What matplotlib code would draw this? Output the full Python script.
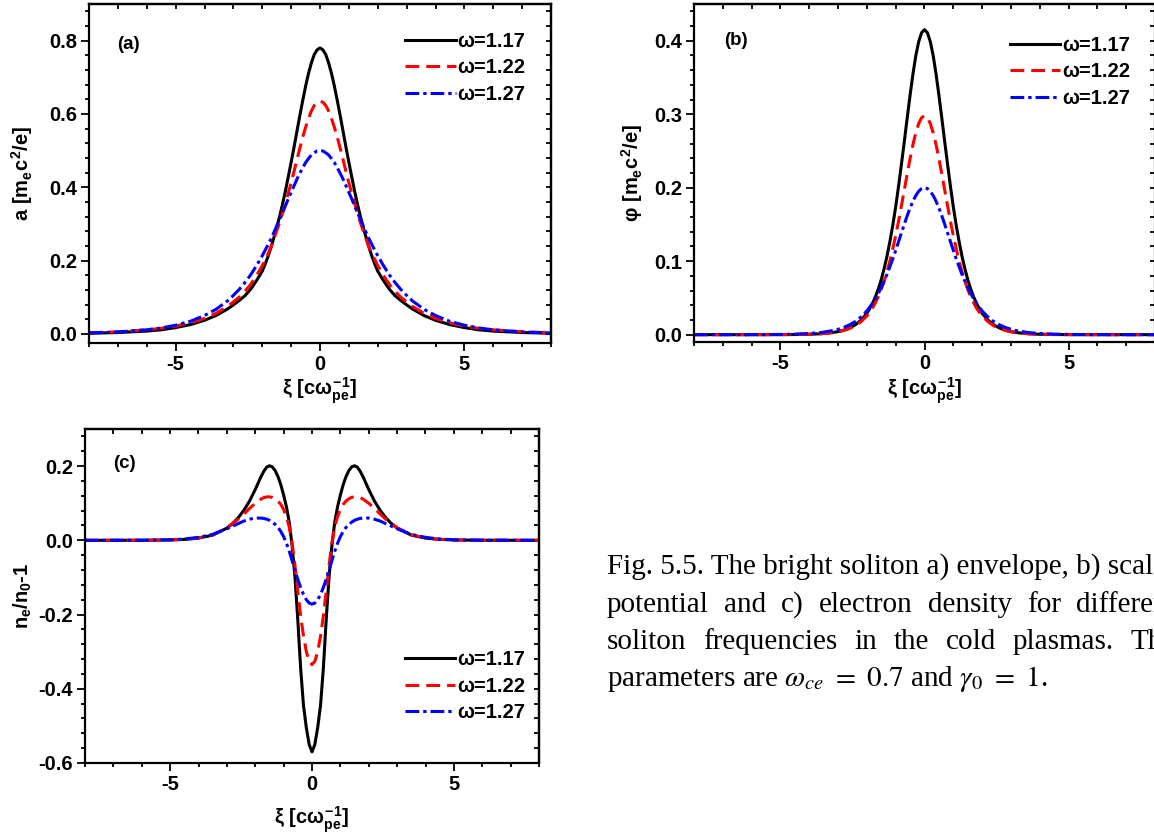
import numpy as np
import matplotlib
matplotlib.use("Agg")
import matplotlib.pyplot as plt
from matplotlib.ticker import MultipleLocator, FormatStrFormatter

plt.rcParams.update({
    "font.family": ["Liberation Sans", "DejaVu Sans"],
    "font.weight": "normal",
    "axes.unicode_minus": False,
    "mathtext.fontset": "custom",
    "mathtext.rm": "Liberation Sans:bold",
    "mathtext.it": "Liberation Sans:bold",
    "mathtext.bf": "Liberation Sans:bold",
    "mathtext.sf": "Liberation Sans:bold",
})

# ---------------- data (half profiles, curves are symmetric in xi) ----------------
labels = ["ω=1.17", "ω=1.22", "ω=1.27"]
colors = ["black", "red", "blue"]

xi_ab = [0, 0.1, 0.2, 0.3, 0.4, 0.5, 0.6, 0.7, 0.8, 0.9, 1.0, 1.1, 1.2, 1.3, 1.4, 1.5,
         1.6, 1.7, 1.8, 1.9, 2.0, 2.2, 2.4, 2.6, 2.8, 3.0, 3.2, 3.6, 4.0, 4.5, 5.0,
         5.5, 6.0, 7.0, 8.0]

# (a) envelope a
a_117 = [0.780, 0.775, 0.762, 0.739, 0.710, 0.675, 0.636, 0.595, 0.552, 0.509, 0.468,
         0.428, 0.389, 0.353, 0.320, 0.290, 0.262, 0.235, 0.211, 0.190, 0.171,
         0.145, 0.122, 0.104, 0.091, 0.079, 0.068, 0.050, 0.037, 0.025, 0.017,
         0.011, 0.0075, 0.0035, 0.0015]
a_122 = [0.635, 0.632, 0.623, 0.608, 0.587, 0.563, 0.536, 0.506, 0.475, 0.443, 0.412,
         0.384, 0.356, 0.329, 0.303, 0.281, 0.258, 0.237, 0.218, 0.202, 0.186,
         0.159, 0.135, 0.116, 0.100, 0.087, 0.075, 0.056, 0.042, 0.030, 0.021,
         0.015, 0.011, 0.0055, 0.0028]
a_127 = [0.500, 0.499, 0.494, 0.488, 0.478, 0.467, 0.453, 0.438, 0.422, 0.404, 0.386,
         0.368, 0.349, 0.330, 0.312, 0.294, 0.276, 0.259, 0.243, 0.228, 0.213,
         0.186, 0.161, 0.140, 0.121, 0.105, 0.090, 0.067, 0.050, 0.034, 0.0235,
         0.016, 0.011, 0.0052, 0.0025]

# (b) scalar potential phi
phi_117 = [0.415, 0.411, 0.399, 0.380, 0.355, 0.326, 0.295, 0.263, 0.232, 0.202, 0.174,
           0.149, 0.127, 0.107, 0.090, 0.075, 0.0625, 0.052, 0.043, 0.0355, 0.029,
           0.0199, 0.0134, 0.0091, 0.0061, 0.0041, 0.0028, 0.0012, 0.0005, 0.0002,
           0.0, 0.0, 0.0, 0.0, 0.0]
phi_122 = [0.298, 0.2953, 0.2875, 0.275, 0.2588, 0.2396, 0.2188, 0.1972, 0.1755, 0.1545,
           0.1349, 0.1169, 0.1003, 0.0858, 0.0728, 0.0617, 0.0519, 0.0439, 0.0365,
           0.0306, 0.0255, 0.0177, 0.0122, 0.0084, 0.0058, 0.0040, 0.0027, 0.0013,
           0.0006, 0.0002, 0.0001, 0.0, 0.0, 0.0, 0.0]
phi_127 = [0.200, 0.1988, 0.1952, 0.1894, 0.1817, 0.1724, 0.1619, 0.1504, 0.1386, 0.1266,
           0.1148, 0.1032, 0.0926, 0.0821, 0.0730, 0.0641, 0.0564, 0.0492, 0.0429,
           0.0374, 0.0322, 0.0242, 0.0179, 0.0134, 0.0099, 0.0073, 0.0054, 0.0029,
           0.00155, 0.0007, 0.0003, 0.0001, 0.0, 0.0, 0.0]

# (c) density perturbation n_e/n_0 - 1
xi_c = [0, 0.1, 0.2, 0.3, 0.4, 0.5, 0.6, 0.7, 0.8, 0.9, 1.0, 1.1, 1.2, 1.3, 1.4, 1.5,
        1.6, 1.7, 1.8, 2.0, 2.2, 2.4, 2.6, 2.8, 3.0, 3.5, 4.0, 4.5, 5.0, 6.0, 8.0]
n_117 = [-0.570, -0.550, -0.505, -0.445, -0.345, -0.215, -0.100, -0.015, 0.048, 0.090,
         0.122, 0.150, 0.172, 0.188, 0.198, 0.201, 0.197, 0.186, 0.171, 0.137, 0.106,
         0.081, 0.061, 0.045, 0.033, 0.014, 0.006, 0.0025, 0.001, 0.0002, 0.0]
n_122 = [-0.335, -0.326, -0.300, -0.258, -0.204, -0.138, -0.068, -0.008, 0.035, 0.064,
         0.083, 0.097, 0.106, 0.112, 0.116, 0.117, 0.117, 0.115, 0.111, 0.100, 0.086,
         0.071, 0.057, 0.045, 0.034, 0.015, 0.0065, 0.0028, 0.0012, 0.0002, 0.0]
n_127 = [-0.172, -0.169, -0.160, -0.146, -0.127, -0.105, -0.080, -0.055, -0.030, -0.008,
         0.010, 0.024, 0.035, 0.043, 0.049, 0.054, 0.057, 0.059, 0.060, 0.060, 0.057,
         0.052, 0.045, 0.038, 0.031, 0.016, 0.008, 0.0035, 0.0015, 0.0003, 0.0]

caption_lines = [
    "Fig. 5.5. The bright soliton a) envelope, b) scalar",
    "potential and c) electron density for different",
    "soliton frequencies in the cold plasmas. The",
    r"parameters are $\omega_{ce}\ =\ 0.7$ and $\gamma_0\ =\ 1$.",
]


def mirror(x, y):
    x = np.asarray(x, float)
    y = np.asarray(y, float)
    return np.concatenate([-x[:0:-1], x]), np.concatenate([y[:0:-1], y])


W, H = 1154, 836
fig = plt.figure(figsize=(W / 100, H / 100), dpi=100)


def axes_px(left, top, right, bottom):
    return fig.add_axes([left / W, 1 - bottom / H, (right - left) / W, (bottom - top) / H])


styles = [dict(ls="-"), dict(dashes=(4.5, 2.3)), dict(dashes=(4.5, 1.3, 1.1, 1.3))]
LW = 2.2
FS = 14.5
LEG = dict(frameon=False, prop={"size": FS, "weight": "bold"}, handlelength=2.5,
           handletextpad=0.08, labelspacing=0.36, borderpad=0, borderaxespad=0)


def setup(ax, ylim, ymaj, ymin_, yfmt):
    ax.set_xlim(-8, 8)
    ax.set_ylim(*ylim)
    ax.xaxis.set_major_locator(MultipleLocator(5))
    ax.xaxis.set_minor_locator(MultipleLocator(1))
    ax.yaxis.set_major_locator(MultipleLocator(ymaj))
    ax.yaxis.set_minor_locator(MultipleLocator(ymin_))
    ax.yaxis.set_major_formatter(FormatStrFormatter(yfmt))
    ax.xaxis.set_major_formatter(FormatStrFormatter("%d"))
    for s in ax.spines.values():
        s.set_linewidth(1.6)
    ax.tick_params(which="major", direction="out", length=5.5, width=1.3,
                   labelsize=FS, top=False, right=False, pad=3)
    ax.tick_params(which="minor", direction="out", length=3, width=1.3,
                   top=False, right=False)
    plt.setp(ax.get_xticklabels() + ax.get_yticklabels(), fontweight="bold")
    sx = ax.secondary_xaxis("top")
    sx.xaxis.set_major_locator(MultipleLocator(5))
    sx.xaxis.set_minor_locator(MultipleLocator(1))
    sx.tick_params(which="both", direction="in", length=3.5, width=1.3, labeltop=False)
    sx.spines["top"].set_linewidth(1.6)
    sy = ax.secondary_yaxis("right")
    sy.yaxis.set_major_locator(MultipleLocator(ymaj))
    sy.yaxis.set_minor_locator(MultipleLocator(ymin_))
    sy.tick_params(which="both", direction="in", length=3.5, width=1.3, labelright=False)
    sy.spines["right"].set_linewidth(1.6)


def curves(ax, x, ys):
    for y, c, st, lab in zip(ys, colors, styles, labels):
        xx, yy = mirror(x, y)
        ax.plot(xx, yy, color=c, lw=LW, label=lab, **st)


xlabel = r"$\xi\ [c\omega_{pe}^{-1}]$"

# ---------------- panel (a) ----------------
axa = axes_px(89, 4, 551, 343)
curves(axa, xi_ab, [a_117, a_122, a_127])
setup(axa, (-0.025, 0.9), 0.2, 0.04, "%.1f")
axa.set_ylabel(r"$a\ [m_{e}c^{2}/e]$", fontsize=FS, fontweight="bold")
axa.yaxis.set_label_coords(-0.116, 0.5)
axa.set_xlabel(xlabel, fontsize=FS, fontweight="bold")
axa.xaxis.set_label_coords(0.5, -0.097)
axa.text(0.061, 0.882, "(a)", transform=axa.transAxes, fontsize=13.5, fontweight="bold",
         va="center", ha="left")
axa.legend(loc="upper right", bbox_to_anchor=(0.944, 0.917), **LEG)

# ---------------- panel (b) ----------------
axb = axes_px(694, 4, 1155, 342)
curves(axb, xi_ab, [phi_117, phi_122, phi_127])
setup(axb, (-0.01, 0.45), 0.1, 0.02, "%.1f")
axb.set_ylabel(r"$\varphi\ [m_{e}c^{2}/e]$", fontsize=FS, fontweight="bold")
axb.yaxis.set_label_coords(-0.106, 0.5)
axb.set_xlabel(xlabel, fontsize=FS, fontweight="bold")
axb.xaxis.set_label_coords(0.5, -0.1)
axb.text(0.065, 0.893, "(b)", transform=axb.transAxes, fontsize=13.5, fontweight="bold",
         va="center", ha="left")
axb.legend(loc="upper right", bbox_to_anchor=(0.946, 0.905), **LEG)

# ---------------- panel (c) ----------------
axc = axes_px(85, 429, 539, 763)
curves(axc, xi_c, [n_117, n_122, n_127])
setup(axc, (-0.6, 0.3), 0.2, 0.04, "%.1f")
axc.set_ylabel(r"$n_{e}/n_{0}$-1", fontsize=FS, fontweight="bold")
axc.yaxis.set_label_coords(-0.112, 0.5)
axc.set_xlabel(xlabel, fontsize=FS, fontweight="bold")
axc.xaxis.set_label_coords(0.5, -0.123)
axc.text(0.062, 0.898, "(c)", transform=axc.transAxes, fontsize=13.5, fontweight="bold",
         va="center", ha="left")
axc.legend(loc="lower right", bbox_to_anchor=(0.969, 0.123), **LEG)

# ---------------- caption (justified, runs past the right edge as in the source) ----------------
CAP_FS = 21
x0 = 607
baselines = [574, 612, 649, 686]
renderer = fig.canvas.get_renderer()
cap_kw = dict(fontsize=CAP_FS, family="Liberation Serif", fontweight="normal",
              va="baseline", ha="left", math_fontfamily="stix")

t1 = fig.text(x0 / W, 1 - baselines[0] / H, caption_lines[0], **cap_kw)
x_right = x0 + t1.get_window_extent(renderer).width

for line, yb in zip(caption_lines[1:3], baselines[1:3]):
    words = line.split()
    txts = [fig.text(0, 0, w, **cap_kw) for w in words]
    widths = [t.get_window_extent(renderer).width for t in txts]
    gap = (x_right - x0 - sum(widths)) / (len(words) - 1)
    x = x0
    for t, w in zip(txts, widths):
        t.set_position((x / W, 1 - yb / H))
        x += w + gap

fig.text(x0 / W, 1 - baselines[3] / H, caption_lines[3], **cap_kw)

fig.savefig("out.png", dpi=100)
